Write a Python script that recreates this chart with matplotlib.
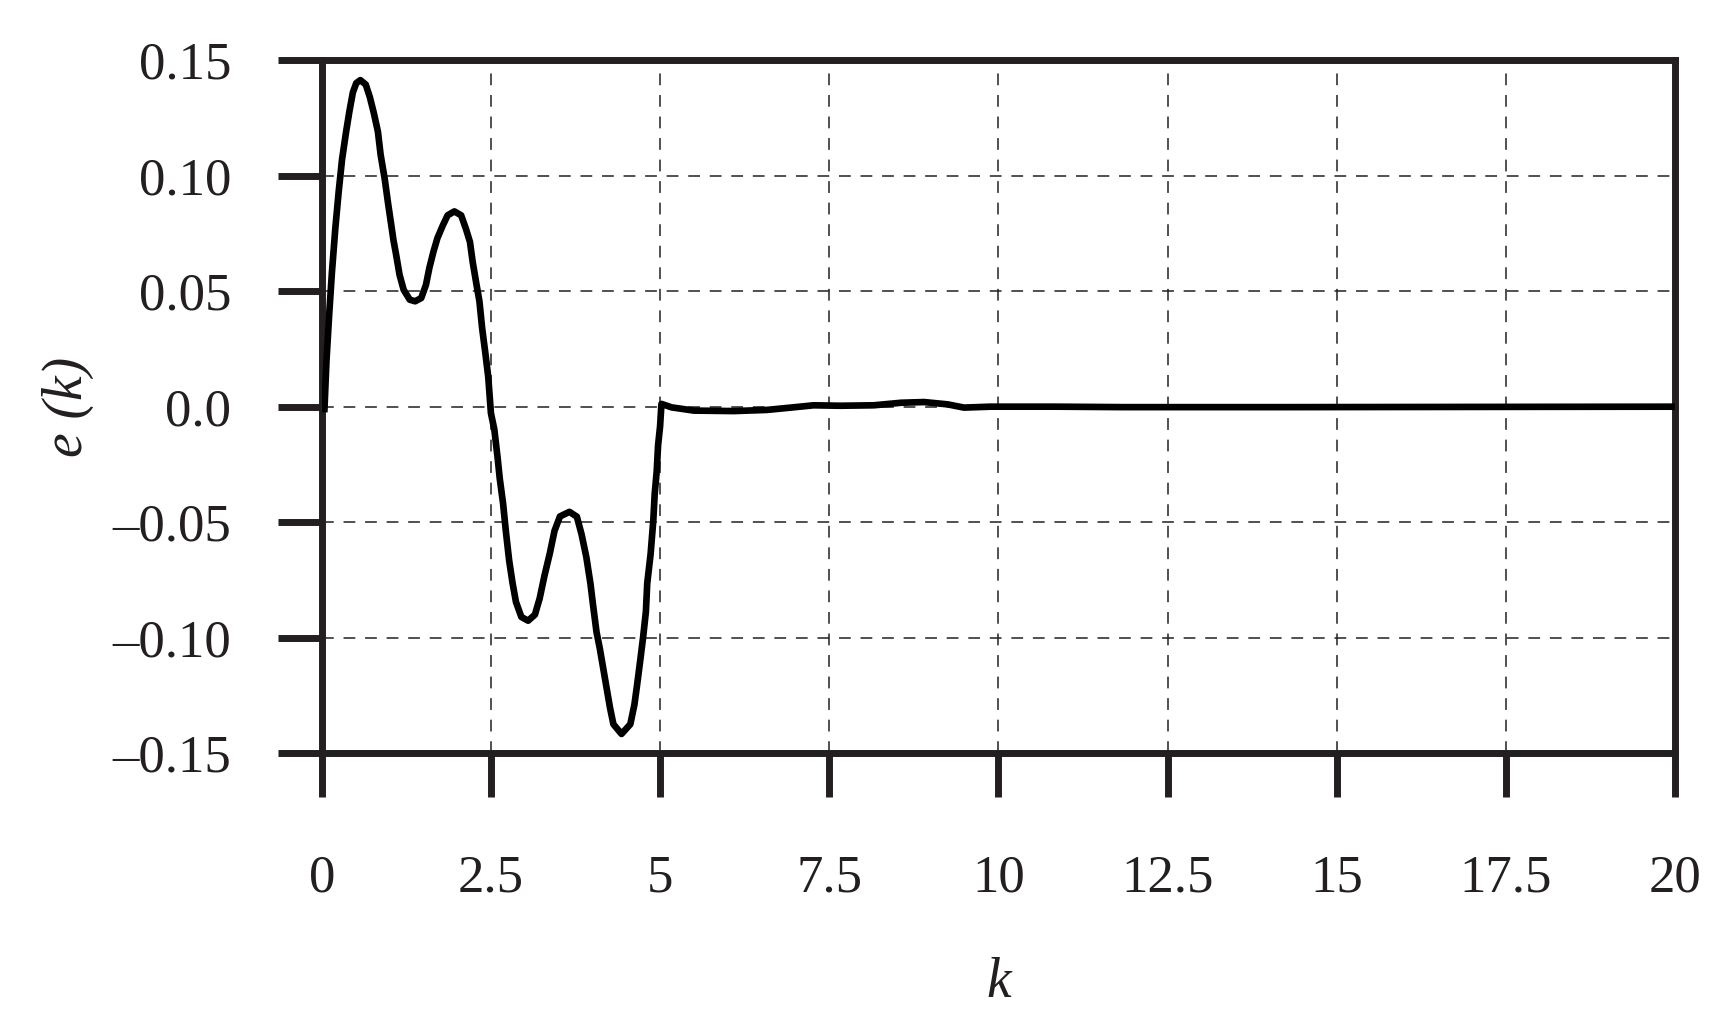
import numpy as np
import matplotlib
matplotlib.use("Agg")
import matplotlib.pyplot as plt
from matplotlib.ticker import FuncFormatter

# error signal
k_values = [0.04, 0.07, 0.11, 0.15, 0.20, 0.25, 0.30, 0.36, 0.41, 0.46,
            0.51, 0.57, 0.65, 0.71, 0.77, 0.83, 0.87, 0.93, 0.98, 1.02,
            1.06, 1.10, 1.15, 1.21, 1.30, 1.38, 1.47, 1.54, 1.59, 1.65,
            1.71, 1.79, 1.86, 1.96, 2.06, 2.13, 2.19, 2.23, 2.28, 2.33,
            2.37, 2.42, 2.46, 2.50, 2.55, 2.60, 2.63, 2.68, 2.72, 2.77,
            2.82, 2.87, 2.95, 3.05, 3.15, 3.22, 3.29, 3.37, 3.44, 3.52,
            3.66, 3.77, 3.84, 3.91, 3.97, 4.01, 4.06, 4.11, 4.16, 4.21,
            4.26, 4.31, 4.43, 4.56, 4.62, 4.66, 4.71, 4.75, 4.79, 4.81,
            4.86, 4.90, 4.92, 4.95, 4.97, 5.00, 5.02, 5.17, 5.50, 6.09,
            6.58, 6.93, 7.27, 7.66, 8.16, 8.56, 8.90, 9.25, 9.49, 9.88,
            10.86, 11.84, 14.30, 20.0]
e_values = [-0.001, 0.020, 0.040, 0.058, 0.077, 0.093, 0.107, 0.119, 0.128, 0.136,
            0.140, 0.1413, 0.1394, 0.134, 0.127, 0.119, 0.109, 0.0986, 0.088, 0.080,
            0.072, 0.0656, 0.057, 0.0506, 0.0463, 0.0456, 0.047, 0.0527, 0.060, 0.067,
            0.073, 0.0785, 0.0828, 0.0845, 0.0828, 0.077, 0.0713, 0.0627, 0.054, 0.0456,
            0.034, 0.0226, 0.013, -0.0028, -0.0098, -0.0224, -0.031, -0.042, -0.0537, -0.0667,
            -0.0764, -0.0845, -0.091, -0.0926, -0.090, -0.083, -0.0733, -0.0635, -0.0537, -0.0475,
            -0.0455, -0.0476, -0.0553, -0.0651, -0.0764, -0.086, -0.0974, -0.1048, -0.1133, -0.1218,
            -0.1303, -0.1374, -0.1416, -0.1374, -0.129, -0.1204, -0.109, -0.0995, -0.0887, -0.0764,
            -0.0637, -0.049, -0.0378, -0.028, -0.0168, -0.0084, 0.0012, -0.0003, -0.0017, -0.0019,
            -0.0014, -0.0004, 0.0006, 0.0004, 0.0006, 0.0017, 0.002, 0.001, -0.0004, 0.0,
            0.0, -0.0002, -0.0002, 0.0]

x_ticks = [0, 2.5, 5, 7.5, 10, 12.5, 15, 17.5, 20]
x_tick_labels = ["0", "2.5", "5", "7.5", "10", "12.5", "15", "17.5", "20"]
y_ticks = [-0.15, -0.10, -0.05, 0.0, 0.05, 0.10, 0.15]

ink = "#231f20"
plt.rcParams["font.family"] = ["Liberation Serif", "DejaVu Serif"]


def y_fmt(v, pos):
    """Tick text with a short dash for negatives"""
    if abs(v) < 1e-9:
        return "0.0"
    s = f"{abs(v):.2f}"
    return ("\u2013" + s) if v < 0 else s


fig = plt.figure(figsize=(17.28, 10.31), dpi=100)
ax = fig.add_axes([0.1862, 0.2693, 0.7832, 0.6725])

ax.plot(k_values, e_values, color="black", linewidth=4.8, zorder=3,
        solid_joinstyle="round")

ax.set_xlim(0, 20)
ax.set_ylim(-0.15, 0.15)
ax.set_xticks(x_ticks)
ax.set_xticklabels(x_tick_labels)
ax.set_yticks(y_ticks)
ax.yaxis.set_major_formatter(FuncFormatter(y_fmt))

ax.grid(True, color=ink, linewidth=1.1, linestyle=(0, (7.7, 6.4)))
ax.set_axisbelow(True)

for side in ["left", "right", "top", "bottom"]:
    ax.spines[side].set_linewidth(5.0)
    ax.spines[side].set_color(ink)

ax.tick_params(axis="both", direction="out", length=32, width=5.0,
               color=ink, labelcolor=ink, labelsize=38)
ax.tick_params(axis="y", pad=33)
ax.tick_params(axis="x", pad=41)

ax.set_xlabel("k", fontsize=40, fontstyle="italic", color=ink)
ax.set_ylabel("e (k)", fontsize=40, fontstyle="italic", color=ink)
ax.xaxis.set_label_coords(0.5, -0.294)
ax.yaxis.set_label_coords(-0.168, 0.5)

plt.savefig("out.png", dpi=100)
plt.close()
